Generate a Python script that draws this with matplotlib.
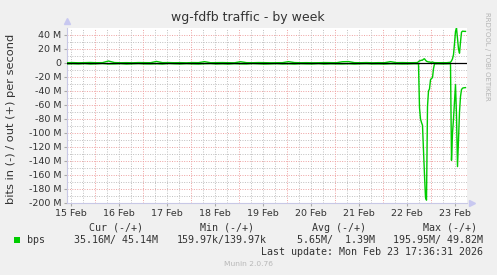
import matplotlib
matplotlib.use("Agg")
import matplotlib.pyplot as plt
from matplotlib.patches import Rectangle
import numpy as np

# hours since 15 Feb 00:00, traffic in Mbit/s (in is drawn negative)
quiet_hours = [10.5, 13, 16, 19, 22, 25, 28, 31, 34, 37, 40, 43, 46, 49, 52, 55, 58,
               61, 64, 67, 70, 73, 76, 79, 82, 85, 88, 91, 94, 97, 100, 103, 106, 109,
               112, 115, 118, 121, 124, 127, 130, 133, 136, 139, 142, 145, 148, 151,
               154, 157, 160, 163, 166, 169, 172, 175, 178, 181, 184, 185.5]
quiet_in = [1.3, 1.1, 1.4, 0.9, 1.5, 1.2, 0.8, 1.4, 1.3, 1.0, 1.5, 1.2, 0.9, 1.3, 1.4,
            1.1, 1.5, 0.8, 1.2, 1.4, 1.0, 1.3, 1.5, 1.1, 0.9, 1.4, 1.2, 1.5, 1.0, 1.3,
            1.4, 0.9, 1.2, 1.5, 1.3, 1.0, 1.4, 1.2, 1.5, 1.1, 1.3, 1.4, 1.0, 1.5, 1.2,
            1.3, 1.4, 1.1, 1.5, 1.2, 1.0, 1.4, 1.3, 1.5, 1.1, 1.2, 1.4, 1.3, 1.0, 1.1]
quiet_out = [0.4, 0.6, 0.3, 0.5, 0.7, 0.4, 0.5, 2.8, 0.6, 0.4, 0.5, 0.3, 0.6, 0.5, 0.4,
             2.2, 0.5, 0.6, 0.4, 0.5, 0.3, 0.6, 0.5, 1.9, 0.4, 0.5, 0.6, 0.4, 0.3, 1.8,
             0.5, 0.4, 0.6, 0.5, 0.3, 0.4, 0.5, 1.9, 0.6, 0.4, 0.5, 0.3, 0.4, 0.6, 0.5,
             0.4, 1.8, 2.0, 0.5, 0.4, 0.6, 0.3, 0.5, 0.4, 1.9, 0.5, 0.6, 0.4, 0.5, 0.6]

event_hours = [186.0, 186.5, 187.0, 187.5, 188.0, 188.5, 189.0, 189.5, 190.0, 190.5,
               191.0, 191.5, 192.0, 192.5, 193.0, 193.5, 194.0, 196.0, 198.0, 200.0,
               202.0, 202.5, 203.0, 203.5, 204.0, 204.5, 205.0, 205.5, 206.0, 206.5,
               207.0, 207.5, 208.0, 208.5, 209.0, 209.5]
event_in = [1.2, 64, 80, 85, 89, 125, 160, 192, 195.95, 62,
            40, 37, 24, 22, 21, 8, 1.2, 1.1, 1.3, 1.2,
            1.0, 139, 100, 80, 55, 31, 75, 148, 110, 70,
            48, 38, 36, 35.5, 35.3, 35.16]
event_out = [2.0, 3.0, 3.5, 4.0, 4.0, 5.5, 6.0, 4.0, 2.5, 2.0,
             1.5, 1.5, 1.0, 0.8, 1.5, 0.8, 0.5, 0.4, 0.5, 0.4,
             1.0, 3.0, 6.0, 12, 28, 45, 49.82, 35, 20, 14,
             30, 44, 45.5, 45.3, 45.2, 45.14]

day_labels = ["15 Feb", "16 Feb", "17 Feb", "18 Feb", "19 Feb", "20 Feb", "21 Feb", "22 Feb", "23 Feb"]
y_ticks = [40, 20, 0, -20, -40, -60, -80, -100, -120, -140, -160, -180, -200]

hours = quiet_hours + event_hours
val_in = np.array(quiet_in + event_in)
val_out = np.array(quiet_out + event_out)

W, H = 497, 275
fig = plt.figure(figsize=(W / 100, H / 100), dpi=100, facecolor="#f0f0f0")
ax = fig.add_axes([67 / W, (H - 203) / H, 400 / W, 175 / H])
ax.set_facecolor("white")

ax.set_xlim(10.25, 210.25)
ax.set_ylim(-200, 50)

# grid
for y in np.arange(-190, 50, 10):
    if y % 20 == 0:
        ax.axhline(y, color="#eea0a0", lw=0.7, ls=(0, (1, 1.5)), zorder=1)
    else:
        ax.axhline(y, color="#bfbfbf", lw=0.7, ls=(0, (1, 1.5)), zorder=1)
for x in np.arange(12, 211, 6):
    if x % 24 == 0:
        ax.axvline(x, color="#eea0a0", lw=0.7, ls=(0, (1, 1.5)), zorder=1)
    else:
        ax.axvline(x, color="#bfbfbf", lw=0.7, ls=(0, (1, 1.5)), zorder=1)

ax.plot(hours, -val_in, color="#00cc00", lw=1.0, zorder=3)
ax.plot(hours, val_out, color="#00cc00", lw=1.0, zorder=3)
ax.axhline(0, color="black", lw=0.9, zorder=4)

for s in ["top", "right"]:
    ax.spines[s].set_visible(False)
for s in ["left", "bottom"]:
    ax.spines[s].set_color("#c8c8e6")
    ax.spines[s].set_linewidth(0.8)

ax.set_yticks(y_ticks)
ax.set_yticklabels([("%d M" % v) if v != 0 else "0" for v in y_ticks])
ax.set_xticks([12 + 24 * i for i in range(len(day_labels))])
ax.set_xticklabels(day_labels)
ax.tick_params(axis="both", length=2, color="#aaaaaa", labelsize=6.8, labelcolor="#333333", pad=2)

# arrows on axes
ax.plot([0], [1.04], marker="^", color="#c8c8f0", ms=4, transform=ax.transAxes, clip_on=False)
ax.plot([1.012], [0], marker=">", color="#c8c8f0", ms=4, transform=ax.transAxes, clip_on=False)

fig.text(248 / W, 1 - 21.5 / H, "wg-fdfb traffic - by week", ha="center", va="baseline",
         fontsize=9, color="#333333")
fig.text(11 / W, 1 - 119 / H, "bits in (-) / out (+) per second", rotation=90,
         ha="center", va="center", fontsize=8.2, color="#333333")
fig.text(487 / W, 1 - 56.5 / H, "RRDTOOL / TOBI OETIKER", rotation=270,
         ha="center", va="center", fontsize=5.0, color="#b4b4b4")

mono = "DejaVu Sans Mono"
fs = 7.2
row1 = 1 - 228 / H
row2 = 1 - 240 / H
for x, t in [(89, "Cur (-/+)"), (200, "Min (-/+)"), (312, "Avg (-/+)"), (423, "Max (-/+)")]:
    fig.text(x / W, row1, t, family=mono, fontsize=fs, va="center", color="#333333")
fig.patches.append(Rectangle((14 / W, 1 - 243 / H), 6 / W, 6 / H, transform=fig.transFigure,
                             facecolor="#00cc00", edgecolor="none"))
fig.text(27 / W, row2, "bps", family=mono, fontsize=fs, va="center", color="#333333")
for x, t in [(158, "35.16M/ 45.14M"), (267, "159.97k/139.97k"), (375, "5.65M/  1.39M"),
             (483, "195.95M/ 49.82M")]:
    fig.text(x / W, row2, t, family=mono, fontsize=fs, va="center", ha="right", color="#333333")
fig.text(483 / W, 1 - 252 / H, "Last update: Mon Feb 23 17:36:31 2026", family=mono,
         fontsize=fs, va="center", ha="right", color="#333333")
fig.text(248 / W, 1 - 264 / H, "Munin 2.0.76", fontsize=5.4, ha="center", va="center",
         color="#b8b8b8")

fig.savefig("out.png", dpi=100, facecolor=fig.get_facecolor())
